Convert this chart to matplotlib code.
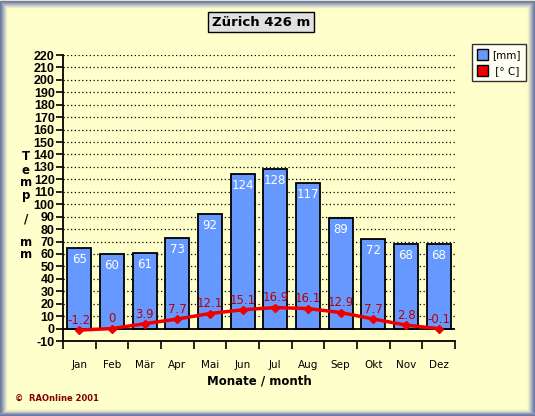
import matplotlib
matplotlib.use("Agg")
import matplotlib.pyplot as plt
from matplotlib.patches import Rectangle, Patch
import numpy as np

months = ["Jan", "Feb", "Mär", "Apr", "Mai", "Jun", "Jul", "Aug", "Sep", "Okt", "Nov", "Dez"]
precip = [65, 60, 61, 73, 92, 124, 128, 117, 89, 72, 68, 68]
temp = [-1.2, 0, 3.9, 7.7, 12.1, 15.1, 16.9, 16.1, 12.9, 7.7, 2.8, -0.1]
temp_labels = ["-1.2", "0", "3.9", "7.7", "12.1", "15.1", "16.9", "16.1", "12.9", "7.7", "2.8", "-0.1"]

W, H = 535, 416
bg = "#FFFFCC"

fig = plt.figure(figsize=(W / 100, H / 100), dpi=100, facecolor=bg)

# bevelled frame
frame_cols = ["#6B789F", "#7A87AA", "#8E99B5", "#A6AEBF", "#BFC3C4", "#D6D8C6", "#EAEBC9"]
for i, c in enumerate(frame_cols):
    fig.patches.append(Rectangle((i / W, i / H), 1 - (2 * i + 1) / W, 1 - (2 * i + 1) / H,
                                 transform=fig.transFigure, fill=False, edgecolor=c,
                                 linewidth=1.0, zorder=0))
for i, c in enumerate(frame_cols[:3]):
    # a bit thicker at the bottom
    fig.patches.append(Rectangle((0, i / H), 1, 1 / H, transform=fig.transFigure,
                                 facecolor=c, edgecolor="none", zorder=0))

ax = fig.add_axes([63 / W, (H - 341) / H, 392 / W, 286 / H])
ax.set_facecolor("none")
x = np.arange(len(months))

ax.set_xlim(-0.5, 11.5)
ax.set_ylim(-10, 220)
yt = np.arange(-10, 221, 10)
ax.set_yticks(yt)
ax.set_yticklabels([str(v) for v in yt], fontsize=9, fontweight="bold",
                   family="Liberation Sans")
for v in yt:
    if v > 0:
        ax.axhline(v, color="black", linestyle=(0, (1, 2)), linewidth=0.9, zorder=1)
ax.axhline(0, color="black", linewidth=1.3, zorder=3)

bars = ax.bar(x, precip, width=0.73, color="#6699FF", edgecolor="black", linewidth=1.3, zorder=2)
for xi, p in zip(x, precip):
    ax.text(xi, p - 4, str(p), ha="center", va="top", color="white", fontsize=8.5, zorder=4)

ax.plot(x, temp, color="#EE0000", linewidth=2.5, marker="D", markersize=4.5,
        markeredgecolor="#EE0000", zorder=5)
for xi, t, lab in zip(x, temp, temp_labels):
    ax.text(xi, t + 2.5, lab, ha="center", va="bottom", color="#BB0000", fontsize=8.5, zorder=6)

ax.set_xticks(np.arange(-0.5, 12, 1))
ax.set_xticklabels([])
ax.set_xticks(x, minor=True)
ax.set_xticklabels(months, minor=True, fontsize=7.5)
ax.tick_params(axis="x", which="major", length=6, width=1.2, direction="out")
ax.tick_params(axis="x", which="minor", length=0, pad=14)
ax.tick_params(axis="y", length=5, width=1.2, pad=1)

for s in ["top", "right"]:
    ax.spines[s].set_visible(False)
ax.spines["left"].set_linewidth(1.3)
ax.spines["bottom"].set_linewidth(1.3)

ax.set_xlabel("Monate / month", fontsize=8.5, fontweight="bold", labelpad=3)

# vertical stacked y label
ylab = ["T", "e", "m", "p", "/", "m", "m"]
ypos = [157, 171, 183, 196, 219, 243, 255]
for ch, yp in zip(ylab, ypos):
    fig.text(26 / W, 1 - yp / H, ch, ha="center", va="center", fontsize=8.5, fontweight="bold")

# title box
fig.text(261 / W, 1 - 22 / H, "Zürich 426 m", ha="center", va="center", fontsize=9.5,
         fontweight="bold",
         bbox=dict(boxstyle="square,pad=0.3", facecolor="#E0E0E0", edgecolor="black", linewidth=1))

# legend
handles = [Patch(facecolor="#6699FF", edgecolor="black", label="[mm]"),
           Patch(facecolor="#EE0000", edgecolor="black", label=" [° C]")]
leg = fig.legend(handles=handles, loc="upper left", bbox_to_anchor=(472 / W, 1 - 44 / H),
                 fontsize=7.5, frameon=True, fancybox=False, handlelength=1.0, handleheight=1.2,
                 handletextpad=0.4, borderpad=0.5, labelspacing=0.5, borderaxespad=0)
leg.get_frame().set_edgecolor("black")
leg.get_frame().set_facecolor("white")
leg.get_frame().set_linewidth(1)

fig.text(15 / W, 1 - 398 / H, "©  RAOnline 2001", ha="left", va="center", fontsize=6,
         fontweight="bold", color="#800000")

fig.savefig("out.png", dpi=100, facecolor=bg)
